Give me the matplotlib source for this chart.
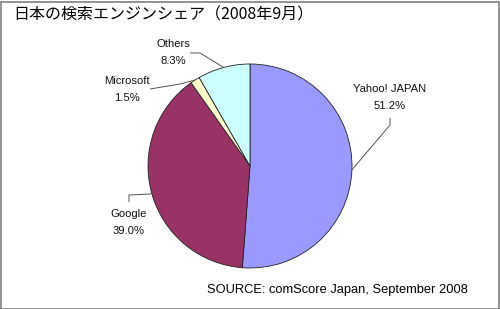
import matplotlib
matplotlib.use("Agg")
import matplotlib.pyplot as plt
import numpy as np

title = "日本の検索エンジンシェア（2008年9月）"
categories = ["Yahoo! JAPAN", "Google", "Microsoft", "Others"]
shares = [51.2, 39.0, 1.5, 8.3]
colors = ["#9999FF", "#993366", "#FFFFCC", "#CCFFFF"]
source = "SOURCE: comScore Japan, September 2008"

W, H = 500, 309
fig = plt.figure(figsize=(W / 100, H / 100), dpi=100)
ax = fig.add_axes([0, 0, 1, 1])
ax.set_xlim(0, W)
ax.set_ylim(0, H)
ax.axis("off")

def Y(ypx):
    return H - ypx

cx, cy, r = 250, Y(166), 102
wedges, _ = ax.pie(shares, colors=colors, startangle=90, counterclock=False,
                   center=(cx, cy), radius=r,
                   wedgeprops=dict(edgecolor="#222222", linewidth=0.6))
ax.set_xlim(0, W)
ax.set_ylim(0, H)
ax.set_aspect("equal")

# label layout: (text center x, first line y px), leader polyline points in px (last point at pie edge)
label_layout = {
    "Yahoo! JAPAN": ((390, 89), [(390, 118), (390, 125)]),
    "Google": ((129, 214), [(129, 202), (129, 195), (150, 194)]),
    "Microsoft": ((127, 81), [(150, 89), (180, 84)]),
    "Others": ((173, 44), [(190, 53), (200, 53)]),
}
lfont = dict(family="Liberation Sans", fontsize=8.1, color="#111111")
for w, name, val in zip(wedges, categories, shares):
    (tx, ty), pts = label_layout[name]
    ax.text(tx, Y(ty), name, ha="center", va="center", **lfont)
    ax.text(tx, Y(ty + 17), f"{val:.1f}%", ha="center", va="center", **lfont)
    ang = np.deg2rad((w.theta1 + w.theta2) / 2)
    ex, ey = cx + r * np.cos(ang), cy + r * np.sin(ang)
    xs = [p[0] for p in pts] + [ex]
    ys = [Y(p[1]) for p in pts] + [ey]
    ax.plot(xs, ys, color="#555555", lw=0.7, solid_capstyle="butt")

ax.text(13, Y(15), title, ha="left", va="center",
        family=["Noto Sans CJK JP", "DejaVu Sans"], fontsize=11.5, color="black")
ax.text(468, Y(290), source, ha="right", va="center",
        family="Liberation Sans", fontsize=9.25, color="black")

fig.patches.append(plt.Rectangle((0.5 / W, 0.5 / H), 1 - 2 / W, 1 - 2 / H,
                                 transform=fig.transFigure, fill=False,
                                 edgecolor="#808080", linewidth=1.2))
fig.savefig("out.png", dpi=100)
